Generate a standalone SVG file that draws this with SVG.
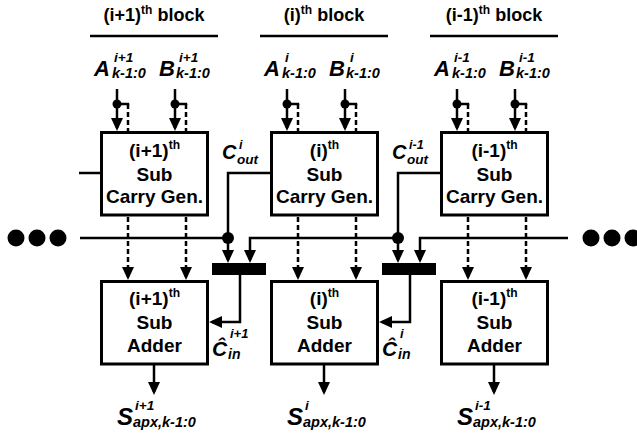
<svg xmlns="http://www.w3.org/2000/svg" width="637" height="434" viewBox="0 0 637 434">
<style>
text{font-family:"Liberation Sans",Arial,sans-serif;font-weight:bold;fill:#000}
.hdr{font-size:18px;text-anchor:middle}
.box{font-size:19px;text-anchor:middle}
.sm{font-size:12px}
.it{font-style:italic}
.big{font-size:22px}
.sub{font-size:14.5px}
.sup{font-size:13.5px}
.bx{fill:#fff;stroke:#000;stroke-width:3}
.ln{fill:none;stroke:#000;stroke-width:2.5}
.ds{fill:none;stroke:#000;stroke-width:2.5;stroke-dasharray:5,3}
.arr{marker-end:url(#ah)}
</style>
<defs>
<marker id="ah" markerUnits="userSpaceOnUse" markerWidth="13" markerHeight="12" viewBox="0 0 13 12" refX="10" refY="6" orient="auto">
<path d="M0,0 L13,6 L0,12 Z" fill="#000"/>
</marker>
</defs>

<g id="headers">
<text class="hdr" x="154" y="21">(i+1)<tspan class="sm" dy="-7">th</tspan><tspan dy="7"> block</tspan></text>
<text class="hdr" x="324" y="21">(i)<tspan class="sm" dy="-7">th</tspan><tspan dy="7"> block</tspan></text>
<text class="hdr" x="494" y="21">(i-1)<tspan class="sm" dy="-7">th</tspan><tspan dy="7"> block</tspan></text>
<path class="ln" d="M90,36 H218 M260,36 H388 M430,36 H558"/>
</g>

<g id="inputs-labels">
<text class="it big" x="94" y="76">A</text><text class="it sub" x="112" y="78">k-1:0</text><text class="it sup" x="114" y="62">i+1</text>
<text class="it big" x="159" y="76">B</text><text class="it sub" x="176" y="78">k-1:0</text><text class="it sup" x="179" y="62">i+1</text>
<text class="it big" x="264" y="76">A</text><text class="it sub" x="282" y="78">k-1:0</text><text class="it sup" x="285" y="62">i</text>
<text class="it big" x="329" y="76">B</text><text class="it sub" x="346" y="78">k-1:0</text><text class="it sup" x="350" y="62">i</text>
<text class="it big" x="434" y="76">A</text><text class="it sub" x="452" y="78">k-1:0</text><text class="it sup" x="454" y="62">i-1</text>
<text class="it big" x="499" y="76">B</text><text class="it sub" x="516" y="78">k-1:0</text><text class="it sup" x="519" y="62">i-1</text>
</g>

<g id="cg1">
<rect class="bx" x="101.5" y="132.5" width="106" height="82.5"/>
<text class="box" x="154.5" y="157">(i+1)<tspan class="sm" dy="-8">th</tspan></text>
<text class="box" x="154.5" y="181">Sub</text>
<text class="box" x="154.5" y="203">Carry Gen.</text>
</g>
<g id="cg2">
<rect class="bx" x="271.5" y="132.5" width="106" height="82.5"/>
<text class="box" x="324.5" y="157">(i)<tspan class="sm" dy="-8">th</tspan></text>
<text class="box" x="324.5" y="181">Sub</text>
<text class="box" x="324.5" y="203">Carry Gen.</text>
</g>
<g id="cg3">
<rect class="bx" x="441.5" y="132.5" width="106" height="82.5"/>
<text class="box" x="494.5" y="157">(i-1)<tspan class="sm" dy="-8">th</tspan></text>
<text class="box" x="494.5" y="181">Sub</text>
<text class="box" x="494.5" y="203">Carry Gen.</text>
</g>

<g id="ad1">
<rect class="bx" x="101.5" y="281.5" width="106" height="82.5"/>
<text class="box" x="154.5" y="305">(i+1)<tspan class="sm" dy="-8">th</tspan></text>
<text class="box" x="154.5" y="329">Sub</text>
<text class="box" x="154.5" y="352">Adder</text>
</g>
<g id="ad2">
<rect class="bx" x="271.5" y="281.5" width="106" height="82.5"/>
<text class="box" x="324.5" y="305">(i)<tspan class="sm" dy="-8">th</tspan></text>
<text class="box" x="324.5" y="329">Sub</text>
<text class="box" x="324.5" y="352">Adder</text>
</g>
<g id="ad3">
<rect class="bx" x="441.5" y="281.5" width="106" height="82.5"/>
<text class="box" x="494.5" y="305">(i-1)<tspan class="sm" dy="-8">th</tspan></text>
<text class="box" x="494.5" y="329">Sub</text>
<text class="box" x="494.5" y="352">Adder</text>
</g>

<g id="mux1"><rect x="212" y="263" width="54" height="12" fill="#000"/></g>
<g id="mux2"><rect x="382" y="263" width="54" height="12" fill="#000"/></g>

<g id="connectors">
<path class="ln arr" d="M117,89 V128"/><path class="ln arr" d="M175,89 V128"/>
<path class="ln arr" d="M287,89 V128"/><path class="ln arr" d="M345,89 V128"/>
<path class="ln arr" d="M457,89 V128"/><path class="ln arr" d="M515,89 V128"/>
<path class="ln" d="M117,104 H129.2 M175,104 H187.2 M287,104 H299.2 M345,104 H357.2 M457,104 H469.2 M515,104 H527.2"/>
<path class="ds" d="M128,104 V131 M186,104 V131 M298,104 V131 M356,104 V131 M468,104 V131 M526,104 V131"/>
<g fill="#000">
<circle cx="117" cy="104" r="4.5"/><circle cx="175" cy="104" r="4.5"/>
<circle cx="287" cy="104" r="4.5"/><circle cx="345" cy="104" r="4.5"/>
<circle cx="457" cy="104" r="4.5"/><circle cx="515" cy="104" r="4.5"/>
</g>
<path class="ds arr" d="M128,217 V277"/><path class="ds arr" d="M186,217 V277"/>
<path class="ds arr" d="M298,217 V277"/><path class="ds arr" d="M356,217 V277"/>
<path class="ds arr" d="M468,217 V277"/><path class="ds arr" d="M526,217 V277"/>
<path class="ln" d="M79,173 H100"/>
<path class="ln" d="M80,238 H228"/>
<path class="ln arr" d="M270,173 H228 V260"/>
<path class="ln arr" d="M398,238 H250 V260"/>
<path class="ln arr" d="M440,173 H398 V260"/>
<path class="ln arr" d="M568,238 H420 V260"/>
<circle cx="228" cy="238" r="6" fill="#000"/>
<circle cx="398" cy="238" r="6" fill="#000"/>
<path class="ln arr" d="M240,275 V322 H212"/>
<path class="ln arr" d="M410,275 V322 H382"/>
<path class="ln arr" d="M154,365 V392"/>
<path class="ln arr" d="M324,365 V392"/>
<path class="ln arr" d="M494,365 V392"/>
</g>

<g id="ellipsis" fill="#000">
<circle cx="16" cy="238" r="8.5"/><circle cx="37" cy="238" r="8.5"/><circle cx="58" cy="238" r="8.5"/>
<circle cx="591" cy="238" r="8.5"/><circle cx="612" cy="238" r="8.5"/><circle cx="633" cy="238" r="8.5"/>
</g>

<g id="carry-labels">
<text class="it" font-size="20" x="222" y="159">C</text><text class="it" font-size="12.5" x="239" y="149">i</text><text class="it" font-size="13.5" x="237" y="164">out</text>
<text class="it" font-size="20" x="392" y="159">C</text><text class="it" font-size="12.5" x="409" y="149">i-1</text><text class="it" font-size="13.5" x="407" y="164">out</text>
<text class="it" font-size="21" x="212" y="356">Ĉ</text><text class="it" font-size="13" x="230" y="338">i+1</text><text class="it" font-size="14" x="228" y="359">in</text>
<text class="it" font-size="21" x="382" y="356">Ĉ</text><text class="it" font-size="13" x="400" y="338">i</text><text class="it" font-size="14" x="398" y="359">in</text>
</g>

<g id="sum-labels">
<text class="it" font-size="24" x="117" y="425">S</text><text class="it" font-size="13.5" x="135" y="410">i+1</text><text class="it" font-size="14.5" x="133" y="427">apx,k-1:0</text>
<text class="it" font-size="24" x="287" y="425">S</text><text class="it" font-size="13.5" x="305" y="410">i</text><text class="it" font-size="14.5" x="303" y="427">apx,k-1:0</text>
<text class="it" font-size="24" x="457" y="425">S</text><text class="it" font-size="13.5" x="475" y="410">i-1</text><text class="it" font-size="14.5" x="473" y="427">apx,k-1:0</text>
</g>
</svg>
